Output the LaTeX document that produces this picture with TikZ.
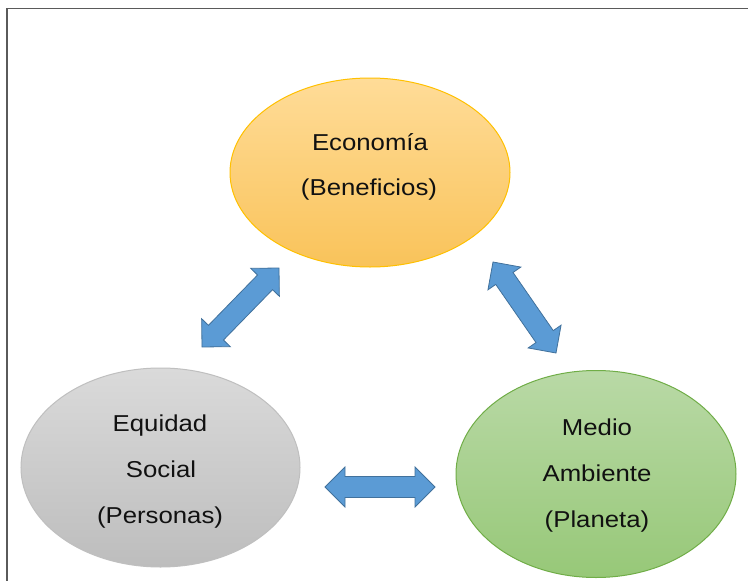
\documentclass[tikz,border=0pt]{standalone}
\usepackage{graphicx}
\usepackage{fontspec}
\setmainfont{Liberation Sans}
\usetikzlibrary{shapes.geometric,calc}
\definecolor{orgtop}{HTML}{FFDC98}
\definecolor{orgbot}{HTML}{F9C35A}
\definecolor{orgline}{HTML}{FFC000}
\definecolor{graytop}{HTML}{DADADA}
\definecolor{graybot}{HTML}{BDBDBD}
\definecolor{grayline}{HTML}{BFBFBF}
\definecolor{grntop}{HTML}{B9D9A6}
\definecolor{grnbot}{HTML}{97C878}
\definecolor{grnline}{HTML}{70AD47}
\definecolor{arrfill}{HTML}{5B9BD5}
\definecolor{arrline}{HTML}{41719C}
\definecolor{txtcol}{HTML}{111111}
\definecolor{framecol}{HTML}{5A5A5A}
\newcommand\wtxt[1]{\scalebox{1.12}[1]{#1}}
\tikzset{
  blob/.style={ellipse, draw, line width=1pt, inner sep=0pt},
  lbl/.style={anchor=base, text=txtcol, font=\fontsize{23}{27}\selectfont, inner sep=0pt},
  arrstyle/.style={fill=arrfill, draw=arrline, line width=0.8pt, line join=miter},
}
\newcommand\arrowbetween[2]{%
  \path ($(#1)!20pt!(#2)$) coordinate (ha) ($(#2)!20pt!(#1)$) coordinate (hb);
  \filldraw[arrstyle] (#1)
    -- ($(ha)!20pt!90:(#2)$) -- ($(ha)!10.5pt!90:(#2)$)
    -- ($(hb)!10.5pt!-90:(#1)$) -- ($(hb)!20pt!-90:(#1)$)
    -- (#2)
    -- ($(hb)!20pt!90:(#1)$) -- ($(hb)!10.5pt!90:(#1)$)
    -- ($(ha)!10.5pt!-90:(#2)$) -- ($(ha)!20pt!-90:(#2)$)
    -- cycle;
}
\begin{document}
\begin{tikzpicture}[x=1pt,y=-1pt]
\useasboundingbox (0,0) rectangle (748,581);
\fill[white] (0,0) rectangle (748,581);
% frame
\draw[framecol, line width=1.6pt] (7,581) -- (7,8.5) -- (748,8.5);
% ellipses
\node[blob, draw=orgline, top color=orgtop, bottom color=orgbot,
      minimum width=280, minimum height=189] (eco) at (370,172.5) {};
\node[blob, draw=grayline, top color=graytop, bottom color=graybot,
      minimum width=279, minimum height=199] (soc) at (160.5,467.5) {};
\node[blob, draw=grnline, top color=grntop, bottom color=grnbot,
      minimum width=280, minimum height=207] (amb) at (596,474) {};
% labels
\node[lbl] (eco1) at (370,150) {\wtxt{Economía}};
\node[lbl] (eco2) at (369,195) {\wtxt{(Beneficios)}};
\node[lbl] (soc1) at (160,431) {\wtxt{Equidad}};
\node[lbl] (soc2) at (161,477) {\wtxt{Social}};
\node[lbl] (soc3) at (160,523) {\wtxt{(Personas)}};
\node[lbl] (amb1) at (597,435) {\wtxt{Medio}};
\node[lbl] (amb2) at (597,481) {\wtxt{Ambiente}};
\node[lbl] (amb3) at (597,527) {\wtxt{(Planeta)}};
% arrows
\coordinate (la) at (202,347);
\coordinate (lb) at (279,268);
\coordinate (ra) at (493,262);
\coordinate (rb) at (556,353);
\coordinate (ba) at (325,487);
\coordinate (bb) at (435,487);
\arrowbetween{la}{lb}
\arrowbetween{ra}{rb}
\arrowbetween{ba}{bb}
\end{tikzpicture}
\end{document}
